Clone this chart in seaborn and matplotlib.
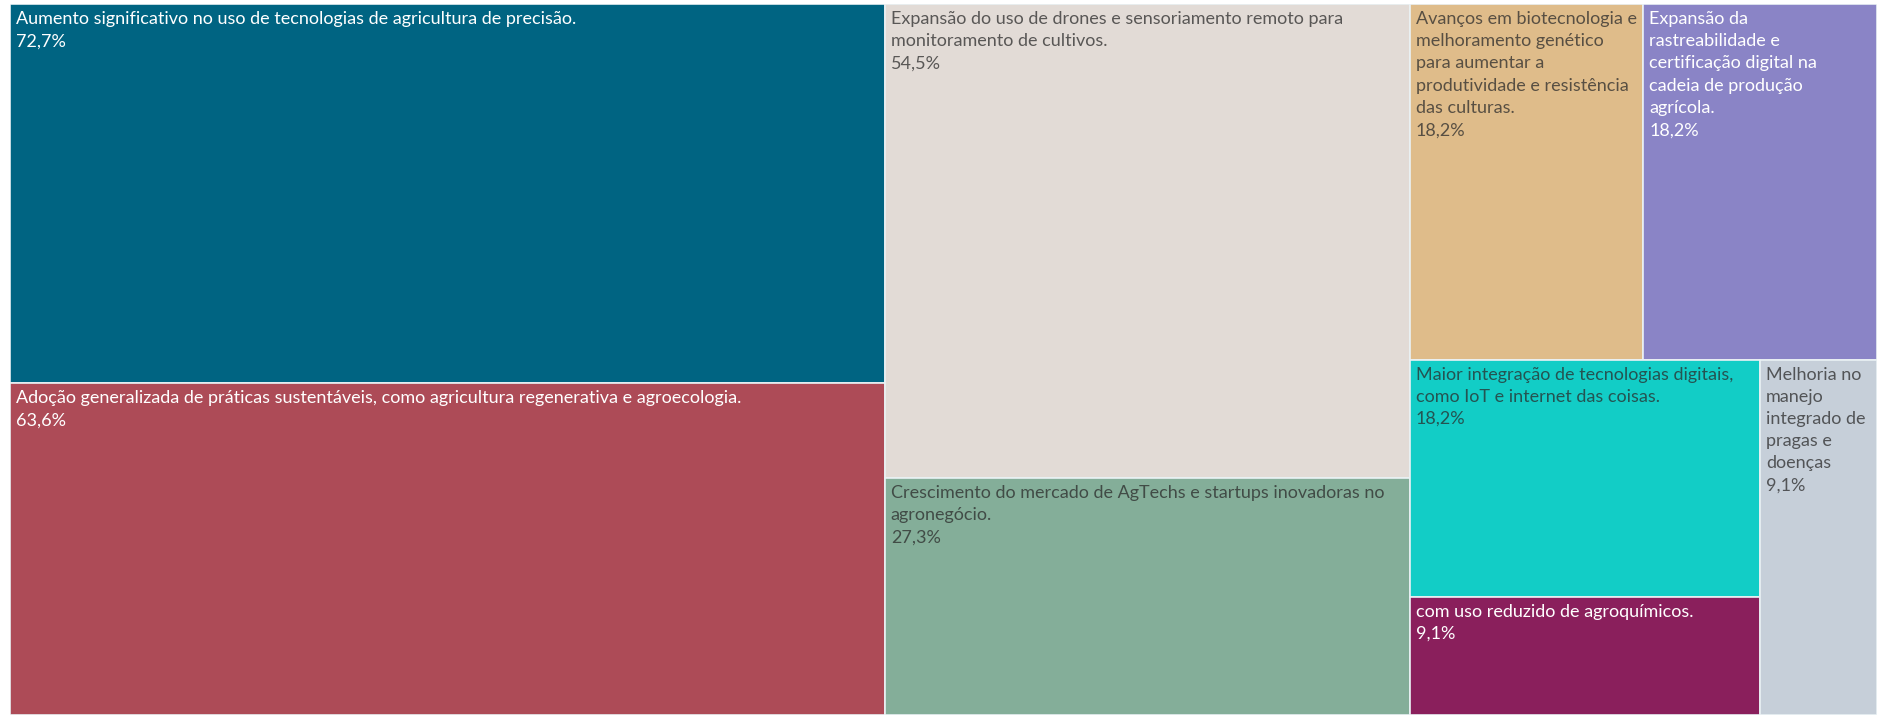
import matplotlib
matplotlib.use("Agg")
import matplotlib.pyplot as plt
from matplotlib.patches import Rectangle
import seaborn as sns

# Survey answers (share of respondents) for expected trends in agribusiness
labels = [
    "Aumento significativo no uso de tecnologias de agricultura de precisão.",
    "Adoção generalizada de práticas sustentáveis, como agricultura regenerativa e agroecologia.",
    "Expansão do uso de drones e sensoriamento remoto para\nmonitoramento de cultivos.",
    "Crescimento do mercado de AgTechs e startups inovadoras no\nagronegócio.",
    "Avanços em biotecnologia e\nmelhoramento genético\npara aumentar a\nprodutividade e resistência\ndas culturas.",
    "Expansão da\nrastreabilidade e\ncertificação digital na\ncadeia de produção\nagrícola.",
    "Maior integração de tecnologias digitais,\ncomo IoT e internet das coisas.",
    "com uso reduzido de agroquímicos.",
    "Melhoria no\nmanejo\nintegrado de\npragas e\ndoenças",
]
values = [72.7, 63.6, 54.5, 27.3, 18.2, 18.2, 18.2, 9.1, 9.1]
tile_colors = ["#006482", "#ad4b57", "#e2dbd6", "#84ae99", "#dfbc8a",
               "#8a84c6", "#12cdc6", "#8a1f5c", "#c6cfd9"]
text_colors = ["white", "white", "#2b2b2b", "#2b2b2b", "#2b2b2b",
               "white", "#2b2b2b", "white", "#2b2b2b"]

sns.set_theme(style="white")
plt.rcParams["font.family"] = ["Lato", "DejaVu Sans"]

PHI = (1 + 5 ** 0.5) / 2


def squarify(vals, x0, y0, x1, y1, ratio=PHI):
    """Squarified treemap layout (golden-ratio target), returns rects per item."""
    order = sorted(range(len(vals)), key=lambda i: -vals[i])
    rects = [None] * len(vals)
    total = sum(vals)
    i0 = 0
    n = len(order)
    while i0 < n:
        dx, dy = x1 - x0, y1 - y0
        i1 = i0
        s = vals[order[i1]]
        i1 += 1
        vmin = vmax = s
        alpha = max(dy / dx, dx / dy) / (total * ratio)
        beta = s * s * alpha
        best = max(vmax / beta, beta / vmin)
        while i1 < n:
            v = vals[order[i1]]
            s2 = s + v
            mn, mx = min(vmin, v), max(vmax, v)
            beta = s2 * s2 * alpha
            r = max(mx / beta, beta / mn)
            if r > best:
                break
            s, vmin, vmax, best = s2, mn, mx, r
            i1 += 1
        row = order[i0:i1]
        if dx < dy:
            # horizontal strip along the top
            h = dy * s / total
            cx = x0
            for k in row:
                w = dx * vals[k] / s
                rects[k] = (cx, y0, w, h)
                cx += w
            y0 += h
        else:
            # vertical strip along the left
            w = dx * s / total
            cy = y0
            for k in row:
                h = dy * vals[k] / s
                rects[k] = (x0, cy, w, h)
                cy += h
            x0 += w
        total -= s
        i0 = i1
    return rects


W_PX, H_PX = 1877, 715
fig = plt.figure(figsize=(W_PX / 100, H_PX / 100), dpi=100)
fig.patch.set_facecolor("white")
left, top = 10, 4
ax = fig.add_axes([left / W_PX, 0, (W_PX - left) / W_PX, (H_PX - top) / H_PX])
AW, AH = W_PX - left, H_PX - top
ax.set_xlim(0, AW)
ax.set_ylim(AH, 0)
ax.axis("off")

rects = squarify(values, 0, 0, AW, AH)
for lab, val, col, tcol, (x, y, w, h) in zip(labels, values, tile_colors, text_colors, rects):
    rect = Rectangle((x, y), w, h, facecolor=col, edgecolor="#eaf1f4", linewidth=1.2)
    ax.add_patch(rect)
    pct = f"{val:.1f}%".replace(".", ",")
    t = ax.text(x + 6, y + 7, f"{lab}\n{pct}", ha="left", va="top",
                fontsize=13, color=tcol, alpha=0.75 if tcol != "white" else 1.0,
                linespacing=1.48)
    t.set_clip_path(rect)

fig.savefig("out.png", dpi=100)
